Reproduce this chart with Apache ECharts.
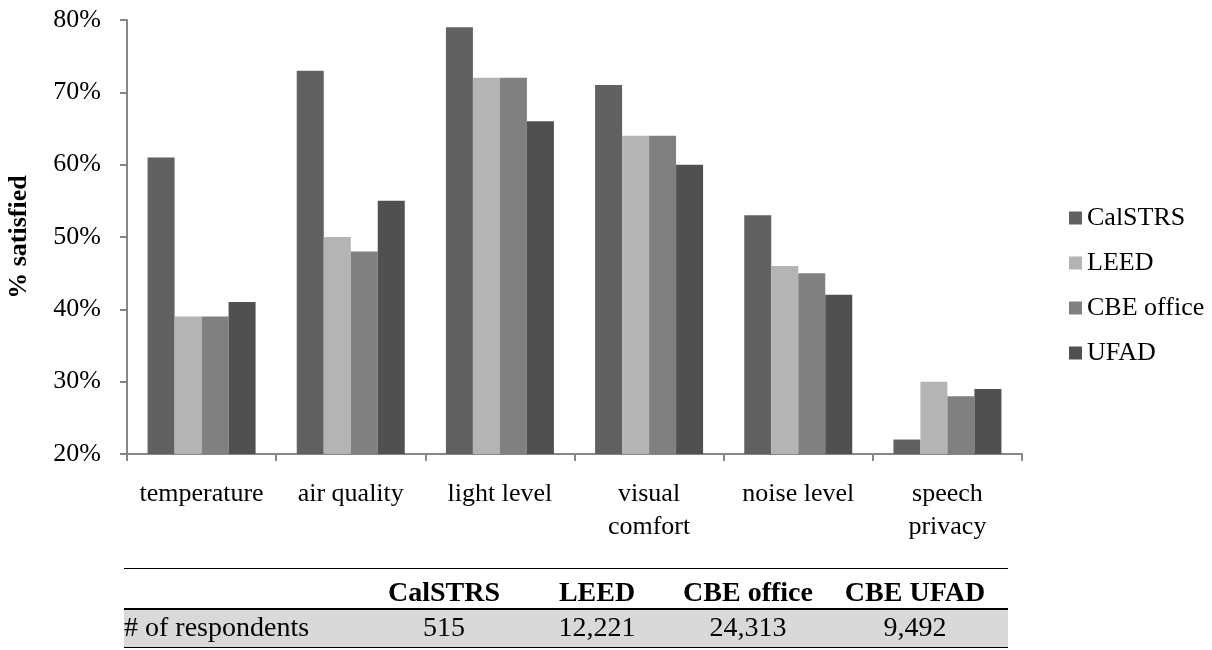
<!DOCTYPE html>
<html>
<head>
<meta charset="utf-8">
<script src="https://cdn.jsdelivr.net/npm/echarts@6/dist/echarts.min.js"></script>
<style>
  html, body { margin: 0; padding: 0; background: #fff; }
  #main { width: 1212px; height: 650px; }
</style>
</head>
<body>
<div id="main"></div>
<script>
var categories = ['temperature', 'air quality', 'light level', 'visual\ncomfort', 'noise level', 'speech\nprivacy'];
var seriesNames = ['CalSTRS', 'LEED', 'CBE office', 'UFAD'];
var calstrs = [61, 73, 79, 71, 53, 22];
var leed = [39, 50, 72, 64, 46, 30];
var cbeOffice = [39, 48, 72, 64, 45, 28];
var ufad = [41, 55, 66, 60, 42, 29];
var tableHeaders = ['CalSTRS', 'LEED', 'CBE office', 'CBE UFAD'];
var respondents = ['515', '12,221', '24,313', '9,492'];
var rowLabel = '# of respondents';

var colors = ['#616161', '#b4b4b4', '#808080', '#505050'];
var font = '"Liberation Serif", "Times New Roman", serif';
var axisGray = '#868686';

var myChart = echarts.init(document.getElementById('main'));

/* 表格 */
var colCenters = [444, 597, 748, 915];
var graphics = [
    { type: 'line', shape: { x1: 124, y1: 568.5, x2: 1008, y2: 568.5 }, style: { stroke: '#000', lineWidth: 1 } },
    { type: 'rect', shape: { x: 124, y: 609, width: 884, height: 39 }, style: { fill: '#d9d9d9' } },
    { type: 'line', shape: { x1: 124, y1: 609, x2: 1008, y2: 609 }, style: { stroke: '#000', lineWidth: 2 } },
    { type: 'line', shape: { x1: 124, y1: 647.5, x2: 1008, y2: 647.5 }, style: { stroke: '#000', lineWidth: 1 } },
    { type: 'text', x: 124, y: 629, style: { text: rowLabel, font: '28px ' + font, fill: '#000', verticalAlign: 'middle' } }
];
tableHeaders.forEach(function (h, i) {
    graphics.push({ type: 'text', x: colCenters[i], y: 594, style: { text: h, font: 'bold 28px ' + font, fill: '#000', align: 'center', verticalAlign: 'middle' } });
    graphics.push({ type: 'text', x: colCenters[i], y: 629, style: { text: respondents[i], font: '28px ' + font, fill: '#000', align: 'center', verticalAlign: 'middle' } });
});

var seriesData = [calstrs, leed, cbeOffice, ufad];
var series = seriesNames.map(function (name, i) {
    return {
        name: name,
        type: 'bar',
        data: seriesData[i],
        barWidth: 27,
        barGap: '0%',
        itemStyle: { color: colors[i] },
        animation: false
    };
});

var option = {
    animation: false,
    textStyle: { fontFamily: font },
    grid: { left: 127, top: 20, right: 190, bottom: 196, containLabel: false, outerBoundsMode: 'none' },
    legend: {
        orient: 'vertical',
        left: 1064,
        top: 200,
        itemWidth: 13,
        itemHeight: 13,
        itemGap: 19,
        icon: 'rect',
        data: seriesNames,
        textStyle: { fontFamily: font, fontSize: 26, color: '#000' }
    },
    xAxis: {
        type: 'category',
        data: categories,
        axisLine: { lineStyle: { color: axisGray, width: 2 } },
        axisTick: { show: true, interval: 0, length: 7, lineStyle: { color: axisGray, width: 2 } },
        axisLabel: { interval: 0, fontFamily: font, fontSize: 26, color: '#000', margin: 24, lineHeight: 33 }
    },
    yAxis: {
        type: 'value',
        min: 20,
        max: 80,
        interval: 10,
        name: '% satisfied',
        nameLocation: 'middle',
        nameGap: 95,
        nameTextStyle: { fontFamily: font, fontSize: 26, fontWeight: 'bold', color: '#000' },
        splitLine: { show: false },
        axisLine: { show: true, lineStyle: { color: axisGray, width: 2 } },
        axisTick: { show: true, length: 7, lineStyle: { color: axisGray, width: 2 } },
        axisLabel: { fontFamily: font, fontSize: 26, color: '#000', margin: 26, formatter: '{value}%' }
    },
    graphic: graphics,
    series: series
};
myChart.setOption(option);
</script>
</body>
</html>
